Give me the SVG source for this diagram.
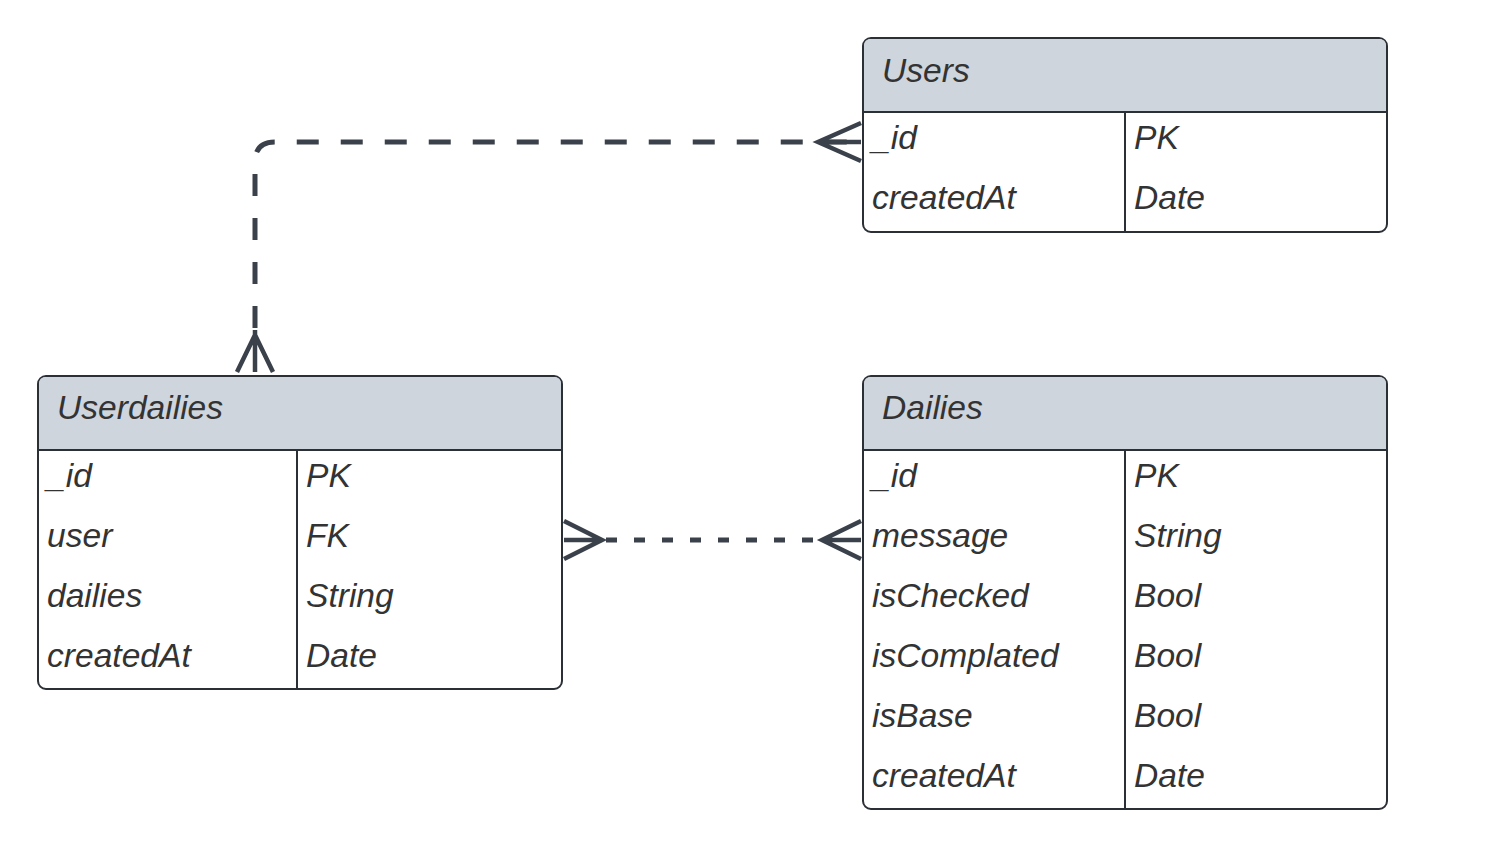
<svg xmlns="http://www.w3.org/2000/svg" width="1509" height="855" viewBox="0 0 1509 855">
<style>
.box{fill:#ffffff;stroke:#2b2f36;stroke-width:2}
.hdr{fill:#cfd5dd}
.ln{stroke:#2b2f36;stroke-width:2;fill:none}
text{font-family:"Liberation Sans",Arial,sans-serif;font-style:italic;font-size:33.6px;fill:#333333}
.conn{stroke:#3a414a;stroke-width:5;fill:none}
.foot{stroke:#3a414a;stroke-width:4.5;fill:none;stroke-linecap:butt}
</style>
<rect width="1509" height="855" fill="#ffffff"/>
<g id="connectors">
  <path class="conn" d="M255,328 V162 Q255,142 275,142 H860" stroke-dasharray="22 22" stroke-dashoffset="0"/>
  <path class="foot" d="M237,372 L255,335 L273,372 M255,330 V372"/>
  <path class="foot" d="M861,123 L818,142 L861,161 M818,142 H861"/>
  <path class="conn" d="M606,540 H822" stroke-width="4" stroke-dasharray="11 17"/>
  <path class="foot" d="M564,521 L602,540 L564,559 M564,540 H602"/>
  <path class="foot" d="M861,521 L822,540 L861,559 M822,540 H861"/>
</g>
<g id="users">
  <rect class="box" x="863" y="38" width="524" height="194" rx="8"/>
  <path class="hdr" d="M864,112 V46 Q864,39 871,39 H1379 Q1386,39 1386,46 V112 Z"/>
  <path class="ln" d="M863,112 H1387 M1125,112 V232"/>
  <text x="882" y="82">Users</text>
  <text x="872" y="149">_id</text><text x="1134" y="149">PK</text>
  <text x="872" y="209">createdAt</text><text x="1134" y="209">Date</text>
</g>
<g id="userdailies">
  <rect class="box" x="38" y="376" width="524" height="313" rx="8"/>
  <path class="hdr" d="M39,450 V384 Q39,377 46,377 H554 Q561,377 561,384 V450 Z"/>
  <path class="ln" d="M38,450 H562 M297,450 V689"/>
  <text x="57" y="419">Userdailies</text>
  <text x="47" y="487">_id</text><text x="306" y="487">PK</text>
  <text x="47" y="547">user</text><text x="306" y="547">FK</text>
  <text x="47" y="607">dailies</text><text x="306" y="607">String</text>
  <text x="47" y="667">createdAt</text><text x="306" y="667">Date</text>
</g>
<g id="dailies">
  <rect class="box" x="863" y="376" width="524" height="433" rx="8"/>
  <path class="hdr" d="M864,450 V384 Q864,377 871,377 H1379 Q1386,377 1386,384 V450 Z"/>
  <path class="ln" d="M863,450 H1387 M1125,450 V809"/>
  <text x="882" y="419">Dailies</text>
  <text x="872" y="487">_id</text><text x="1134" y="487">PK</text>
  <text x="872" y="547">message</text><text x="1134" y="547">String</text>
  <text x="872" y="607">isChecked</text><text x="1134" y="607">Bool</text>
  <text x="872" y="667">isComplated</text><text x="1134" y="667">Bool</text>
  <text x="872" y="727">isBase</text><text x="1134" y="727">Bool</text>
  <text x="872" y="787">createdAt</text><text x="1134" y="787">Date</text>
</g>
</svg>
